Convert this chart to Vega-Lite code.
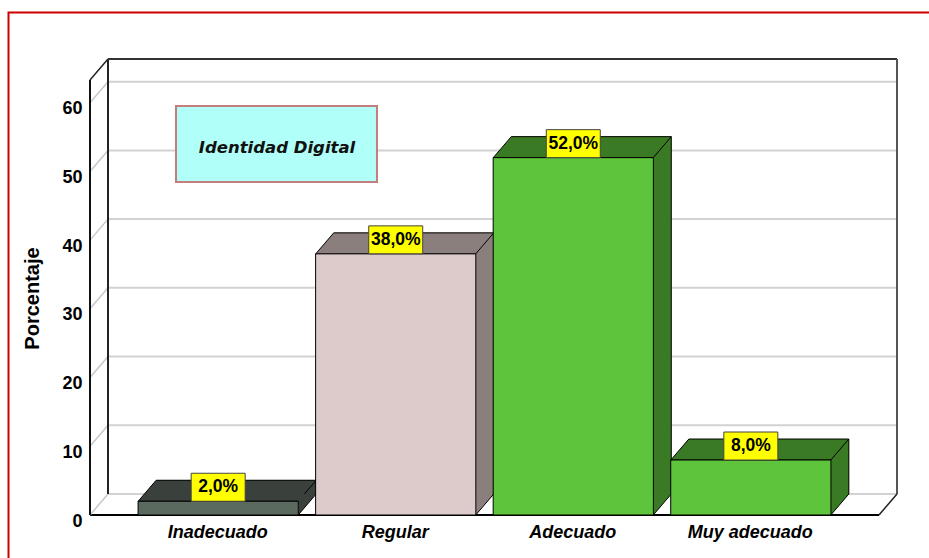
{
  "$schema": "https://vega.github.io/schema/vega-lite/v6.json",
  "width": 789,
  "height": 435,
  "autosize": {"type": "none"},
  "padding": {"left": 108, "top": 59, "right": 32, "bottom": 64},
  "background": "white",
  "config": {"view": {"stroke": null}},
  "datasets": {
    "barras": [
      {"categoria": "Inadecuado", "porcentaje": 2.0, "etiqueta": "2,0%"},
      {"categoria": "Regular", "porcentaje": 38.0, "etiqueta": "38,0%"},
      {"categoria": "Adecuado", "porcentaje": 52.0, "etiqueta": "52,0%"},
      {"categoria": "Muy adecuado", "porcentaje": 8.0, "etiqueta": "8,0%"}
    ],
    "marcas": [{"v": 0}, {"v": 10}, {"v": 20}, {"v": 30}, {"v": 40}, {"v": 50}, {"v": 60}],
    "uno": [{"titulo": "Identidad Digital"}]
  },
  "layer": [
    {
      "data": {"name": "barras"},
      "encoding": {
        "x": {
          "field": "categoria", "type": "nominal", "sort": null,
          "scale": {"type": "band", "paddingInner": 0.0977, "paddingOuter": 0.2707},
          "axis": {"title": null, "orient": "bottom", "offset": 39, "translate": -18, "ticks": false, "grid": false, "domainColor": "black", "domainWidth": 2, "labelFont": "Liberation Sans", "labelFontSize": 18, "labelFontWeight": "bold", "labelFontStyle": "italic", "labelColor": "black", "labelPadding": 9, "labelAngle": 0}
        },
        "y": {
          "field": "porcentaje", "type": "quantitative",
          "scale": {"domain": [0, 63.3], "nice": false, "zero": false},
          "axis": {"title": "Porcentaje", "orient": "left", "values": [0, 10, 20, 30, 40, 50, 60], "offset": 18, "grid": false, "ticks": false, "domain": false, "labelFont": "Liberation Sans", "labelFontSize": 18, "labelFontWeight": "bold", "labelColor": "black", "labelPadding": 8, "labelOffset": 27, "titleFont": "Liberation Sans", "titleFontSize": 20, "titleFontWeight": "bold", "titleColor": "black", "titlePadding": 19, "titleY": 239}
        }
      },
      "mark": {"type": "bar", "opacity": 0, "strokeWidth": 0}
    },
    {
      "data": {"name": "marcas"},
      "encoding": {
        "x": {"datum": 0, "type": "quantitative", "scale": {"domain": [0, 1], "nice": false, "zero": false}, "axis": null},
        "y": {"field": "v", "type": "quantitative", "scale": {"domain": [0, 63.3], "nice": false, "zero": false}}
      },
      "layer": [
        {"mark": {"type": "rule", "color": "#d2d2d2", "strokeWidth": 2}, "encoding": {"x2": {"datum": 1}}},
        {"mark": {"type": "rule", "color": "#c8c8c8", "strokeWidth": 1.5, "x2Offset": -18, "y2Offset": 21}, "encoding": {"x2": {"datum": 0}, "y2": {"field": "v"}}}
      ]
    },
    {
      "data": {"name": "uno"},
      "layer": [
        {
          "mark": {"type": "rect", "fill": "transparent", "stroke": "#cc0000", "strokeWidth": 2},
          "encoding": {
            "x": {"datum": -0.1261, "type": "quantitative", "scale": {"domain": [0, 1], "nice": false, "zero": false}, "axis": null},
            "x2": {"datum": 1.1},
            "y": {"datum": 70.07, "type": "quantitative", "scale": {"domain": [0, 63.3], "nice": false, "zero": false}},
            "y2": {"datum": -12}
          }
        },
        {
          "mark": {"type": "rule", "color": "#222222", "strokeWidth": 2},
          "encoding": {
            "x": {"datum": 0, "type": "quantitative", "scale": {"domain": [0, 1], "nice": false, "zero": false}, "axis": null},
            "y": {"datum": 0, "type": "quantitative", "scale": {"domain": [0, 63.3], "nice": false, "zero": false}},
            "y2": {"datum": 63.3}
          }
        },
        {
          "mark": {"type": "rule", "color": "#111111", "strokeWidth": 2, "xOffset": -18, "yOffset": 21, "y2Offset": 21},
          "encoding": {
            "x": {"datum": 0, "type": "quantitative", "scale": {"domain": [0, 1], "nice": false, "zero": false}, "axis": null},
            "y": {"datum": 0, "type": "quantitative", "scale": {"domain": [0, 63.3], "nice": false, "zero": false}},
            "y2": {"datum": 63.3}
          }
        },
        {
          "mark": {"type": "rule", "color": "#333333", "strokeWidth": 2},
          "encoding": {
            "x": {"datum": 0, "type": "quantitative", "scale": {"domain": [0, 1], "nice": false, "zero": false}, "axis": null},
            "x2": {"datum": 1},
            "y": {"datum": 63.3, "type": "quantitative", "scale": {"domain": [0, 63.3], "nice": false, "zero": false}}
          }
        },
        {
          "mark": {"type": "rule", "color": "#555555", "strokeWidth": 2},
          "encoding": {
            "x": {"datum": 1, "type": "quantitative", "scale": {"domain": [0, 1], "nice": false, "zero": false}, "axis": null},
            "y": {"datum": 0, "type": "quantitative", "scale": {"domain": [0, 63.3], "nice": false, "zero": false}},
            "y2": {"datum": 63.3}
          }
        },
        {
          "mark": {"type": "rule", "color": "#222222", "strokeWidth": 1.5, "x2Offset": -18, "y2Offset": 21},
          "encoding": {
            "x": {"datum": 0, "type": "quantitative", "scale": {"domain": [0, 1], "nice": false, "zero": false}, "axis": null},
            "x2": {"datum": 0},
            "y": {"datum": 63.3, "type": "quantitative", "scale": {"domain": [0, 63.3], "nice": false, "zero": false}},
            "y2": {"datum": 63.3}
          }
        },
        {
          "mark": {"type": "rule", "color": "#222222", "strokeWidth": 1.5, "x2Offset": -18, "y2Offset": 21},
          "encoding": {
            "x": {"datum": 1, "type": "quantitative", "scale": {"domain": [0, 1], "nice": false, "zero": false}, "axis": null},
            "x2": {"datum": 1},
            "y": {"datum": 0, "type": "quantitative", "scale": {"domain": [0, 63.3], "nice": false, "zero": false}},
            "y2": {"datum": 0}
          }
        },
        {
          "mark": {"type": "rect", "fill": "#b0fff8", "stroke": "#c47c7c", "strokeWidth": 2},
          "encoding": {
            "x": {"datum": 0.0862, "type": "quantitative", "scale": {"domain": [0, 1], "nice": false, "zero": false}, "axis": null},
            "x2": {"datum": 0.3409},
            "y": {"datum": 56.46, "type": "quantitative", "scale": {"domain": [0, 63.3], "nice": false, "zero": false}},
            "y2": {"datum": 45.4}
          }
        },
        {
          "mark": {"type": "text", "font": "DejaVu Sans", "fontSize": 16.5, "fontWeight": "bold", "fontStyle": "italic", "align": "center", "baseline": "middle", "color": "#111111"},
          "encoding": {
            "x": {"datum": 0.2142, "type": "quantitative", "scale": {"domain": [0, 1], "nice": false, "zero": false}, "axis": null},
            "y": {"datum": 50.35, "type": "quantitative", "scale": {"domain": [0, 63.3], "nice": false, "zero": false}},
            "text": {"field": "titulo"}
          }
        }
      ]
    },
    {
      "data": {"name": "barras"},
      "encoding": {
        "x": {"field": "categoria", "type": "nominal", "sort": null, "scale": {"type": "band", "paddingInner": 0.0977, "paddingOuter": 0.2707}, "axis": null},
        "y": {"field": "porcentaje", "type": "quantitative", "scale": {"domain": [0, 63.3], "nice": false, "zero": false}}
      },
      "layer": [
        {
          "mark": {"type": "bar", "strokeWidth": 0},
          "encoding": {"color": {"field": "categoria", "type": "nominal", "scale": {"domain": ["Inadecuado", "Regular", "Adecuado", "Muy adecuado"], "range": ["#3a403b", "#8b7f7e", "#3b7a24", "#3b7a24"]}, "legend": null}}
        },
        {
          "mark": {"type": "point", "shape": "M-98,21L62,21L80,0L-80,0Z", "size": 4, "filled": true, "opacity": 1, "stroke": "black", "strokeWidth": 1},
          "encoding": {"color": {"field": "categoria", "type": "nominal", "scale": {"domain": ["Inadecuado", "Regular", "Adecuado", "Muy adecuado"], "range": ["#3a403b", "#8b7f7e", "#3b7a24", "#3b7a24"]}, "legend": null}}
        },
        {
          "mark": {"type": "point", "shape": "M62,0L62,21L80,0Z", "size": 4, "filled": true, "opacity": 1, "strokeWidth": 0},
          "encoding": {"y": {"datum": 0}, "color": {"field": "categoria", "type": "nominal", "scale": {"domain": ["Inadecuado", "Regular", "Adecuado", "Muy adecuado"], "range": ["#3a403b", "#8b7f7e", "#3b7a24", "#3b7a24"]}, "legend": null}}
        },
        {
          "mark": {"type": "rule", "color": "black", "strokeWidth": 1, "xOffset": 80},
          "encoding": {"y2": {"datum": 0}}
        },
        {
          "mark": {"type": "rule", "color": "black", "strokeWidth": 1, "xOffset": 80, "x2Offset": 62, "y2Offset": 21},
          "encoding": {"y": {"datum": 0}, "x2": {"field": "categoria"}, "y2": {"datum": 0}}
        },
        {
          "mark": {"type": "bar", "xOffset": -18, "x2Offset": -18, "yOffset": 21, "y2Offset": 21, "stroke": "black", "strokeWidth": 1},
          "encoding": {"fill": {"field": "categoria", "type": "nominal", "scale": {"domain": ["Inadecuado", "Regular", "Adecuado", "Muy adecuado"], "range": ["#5a6a5f", "#dccbca", "#5ec43b", "#5ec43b"]}, "legend": null}}
        },
        {
          "mark": {"type": "point", "shape": "M-27,-28L27,-28L27,0L-27,0Z", "size": 4, "filled": true, "opacity": 1, "fill": "#ffff00", "stroke": "#444444", "strokeWidth": 1, "xOffset": -18, "yOffset": 21}
        },
        {
          "mark": {"type": "text", "xOffset": -18, "yOffset": 7, "font": "Liberation Sans", "fontSize": 17.5, "fontWeight": "bold", "color": "black", "baseline": "middle", "align": "center"},
          "encoding": {"text": {"field": "etiqueta"}}
        }
      ]
    }
  ],
  "resolve": {"scale": {"x": "independent"}, "axis": {"y": "shared"}}
}
